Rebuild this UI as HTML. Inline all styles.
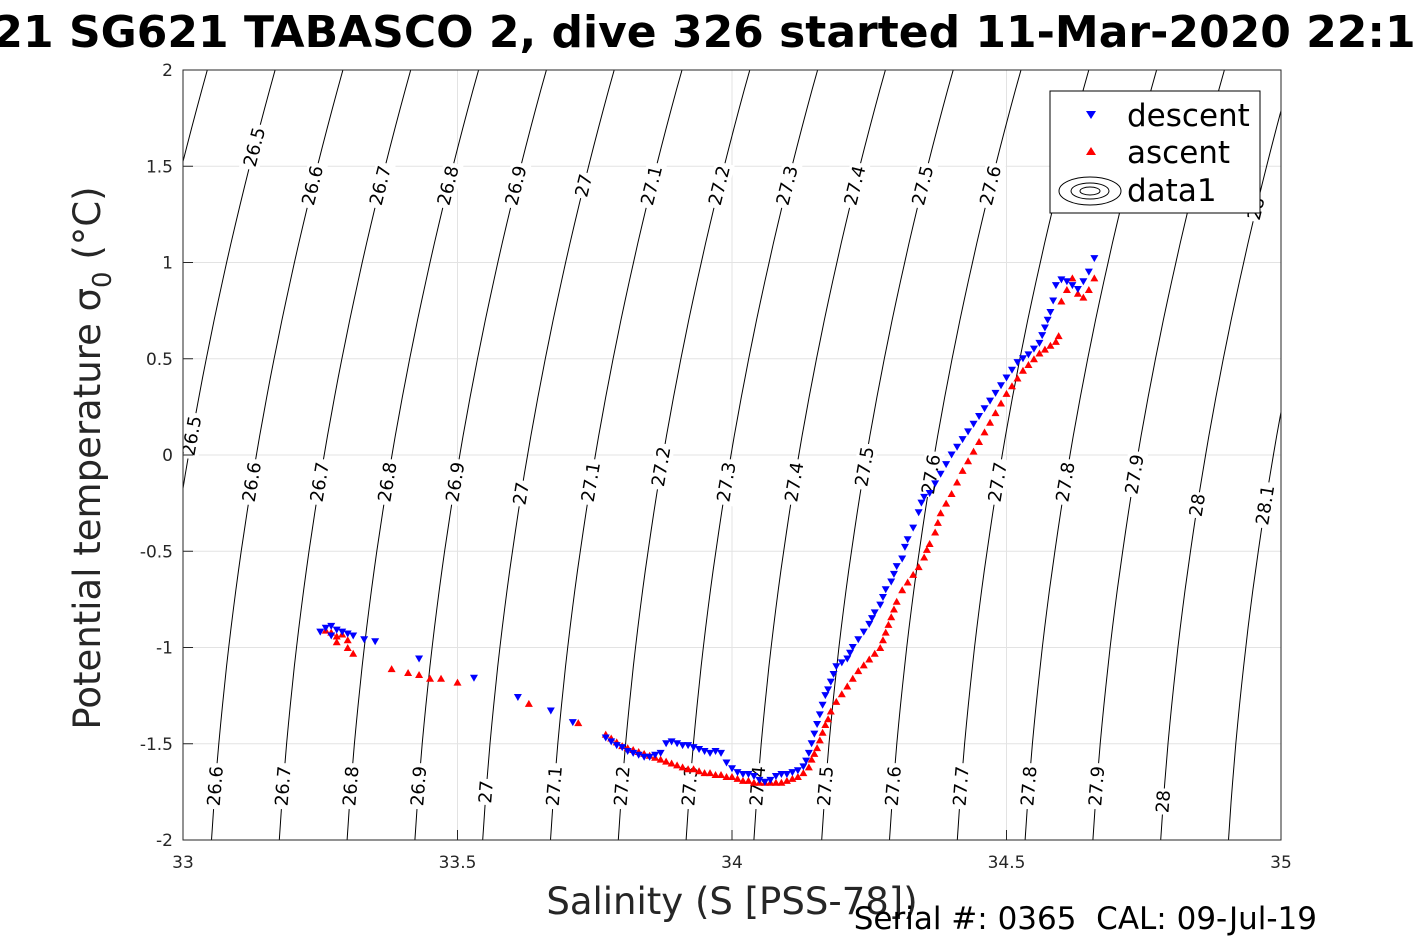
<!DOCTYPE html>
<html><head><meta charset="utf-8"><style>
body{margin:0;background:#fff;}
svg{display:block;font-family:"DejaVu Sans","Liberation Sans",sans-serif;}
</style></head><body>
<svg id="chart" width="1417" height="945" viewBox="0 0 1417 945">
<text x="-106" y="47" text-anchor="start" font-size="44" font-weight="bold">SG621 SG621 TABASCO 2, dive 326 started 11-Mar-2020 22:10</text>
<g id="grid"></g>
<g id="contours"></g>
<g id="points"></g>
<rect x="183" y="70" width="1098" height="770" fill="none" stroke="#262626" stroke-width="1"/>
<g id="ticks" font-size="17" fill="#262626"></g>
<text transform="translate(100,458) rotate(-90)" text-anchor="middle" font-size="37" fill="#262626">Potential temperature σ<tspan font-size="26" dy="11">0</tspan><tspan dy="-11"> (°C)</tspan></text>
<text x="732" y="914" text-anchor="middle" font-size="37" fill="#262626">Salinity (S [PSS-78])</text>
<text x="1317" y="929" text-anchor="end" font-size="31" xml:space="preserve">Serial #: 0365  CAL: 09-Jul-19</text>
<g>
<rect x="1050" y="91" width="210" height="122" fill="#fff" stroke="#000" stroke-width="1"/>
<path d="M1086,111 L1096,111 L1091,119 Z" fill="#00f"/>
<text x="1127" y="126" font-size="31">descent</text>
<path d="M1091,147 L1096,155 L1086,155 Z" fill="#f00"/>
<text x="1127" y="163" font-size="31">ascent</text>
<g fill="none" stroke="#000" stroke-width="1">
<ellipse cx="1090" cy="191" rx="31" ry="14"/><ellipse cx="1090" cy="191" rx="19" ry="8"/><ellipse cx="1090" cy="191" rx="10" ry="4"/></g>
<text x="1127" y="201" font-size="31">data1</text>
</g>
</svg>
<script>
const xTicks=[33,33.5,34,34.5,35];
const xTickLabels=["33","33.5","34","34.5","35"];
const yTicks=[2,1.5,1,0.5,0,-0.5,-1,-1.5,-2];
const yTickLabels=["2","1.5","1","0.5","0","-0.5","-1","-1.5","-2"];
const sigmaLevels=[26.3,26.4,26.5,26.6,26.7,26.8,26.9,27,27.1,27.2,27.3,27.4,27.5,27.6,27.7,27.8,27.9,28,28.1,28.2,28.3];
const topLabels=[[26.5,1.6],[26.6,1.4],[26.7,1.4],[26.8,1.4],[26.9,1.4],[27,1.4],[27.1,1.4],[27.2,1.4],[27.3,1.4],[27.4,1.4],[27.5,1.4],[27.6,1.4],[28,1.28]];
const midLabels=[[26.5,0.1],[26.6,-0.14],[26.7,-0.14],[26.8,-0.14],[26.9,-0.14],[27,-0.2],[27.1,-0.14],[27.2,-0.06],[27.3,-0.14],[27.4,-0.14],[27.5,-0.06],[27.6,-0.1],[27.7,-0.14],[27.8,-0.14],[27.9,-0.1],[28,-0.26],[28.1,-0.26]];
const botLabels=[[26.6,-1.72],[26.7,-1.72],[26.8,-1.72],[26.9,-1.72],[27,-1.75],[27.1,-1.72],[27.2,-1.72],[27.3,-1.72],[27.4,-1.72],[27.5,-1.72],[27.6,-1.72],[27.7,-1.72],[27.8,-1.72],[27.9,-1.72],[28,-1.8]];
const descS=[33.25,33.26,33.27,33.28,33.27,33.29,33.30,33.31,33.33,33.35,33.43,33.53,33.61,33.67,33.71,33.77,33.78,33.79,33.80,33.81,33.82,33.83,33.84,33.85,33.86,33.87,33.88,33.89,33.90,33.91,33.92,33.93,33.94,33.95,33.96,33.97,33.98,33.99,34.00,34.01,34.02,34.03,34.04,34.05,34.06,34.07,34.08,34.09,34.10,34.11,34.12,34.13,34.135,34.14,34.145,34.15,34.155,34.16,34.165,34.17,34.175,34.18,34.185,34.19,34.20,34.21,34.215,34.22,34.23,34.24,34.25,34.255,34.26,34.27,34.275,34.28,34.29,34.295,34.30,34.31,34.315,34.32,34.33,34.34,34.345,34.35,34.36,34.37,34.38,34.39,34.40,34.41,34.42,34.43,34.44,34.45,34.46,34.47,34.48,34.49,34.50,34.51,34.52,34.53,34.54,34.55,34.56,34.565,34.57,34.575,34.58,34.585,34.59,34.60,34.61,34.62,34.63,34.64,34.65,34.66];
const descT=[-0.92,-0.90,-0.89,-0.91,-0.94,-0.92,-0.93,-0.94,-0.96,-0.97,-1.06,-1.16,-1.26,-1.33,-1.39,-1.47,-1.49,-1.51,-1.52,-1.54,-1.55,-1.56,-1.57,-1.57,-1.56,-1.55,-1.50,-1.49,-1.50,-1.51,-1.51,-1.52,-1.53,-1.54,-1.55,-1.54,-1.55,-1.60,-1.63,-1.65,-1.66,-1.66,-1.67,-1.69,-1.70,-1.69,-1.67,-1.66,-1.66,-1.65,-1.64,-1.62,-1.59,-1.55,-1.50,-1.45,-1.40,-1.35,-1.30,-1.25,-1.22,-1.18,-1.14,-1.10,-1.08,-1.06,-1.03,-1.00,-0.96,-0.92,-0.88,-0.85,-0.82,-0.78,-0.74,-0.70,-0.66,-0.62,-0.58,-0.54,-0.48,-0.44,-0.38,-0.30,-0.25,-0.22,-0.20,-0.15,-0.10,-0.05,0.00,0.04,0.08,0.12,0.16,0.20,0.24,0.28,0.32,0.36,0.40,0.44,0.48,0.50,0.52,0.55,0.58,0.62,0.66,0.70,0.74,0.80,0.88,0.91,0.90,0.88,0.86,0.90,0.95,1.02];
const ascS=[33.26,33.27,33.28,33.28,33.29,33.30,33.30,33.31,33.38,33.41,33.43,33.45,33.47,33.50,33.63,33.72,33.77,33.78,33.79,33.80,33.81,33.82,33.83,33.84,33.85,33.86,33.87,33.88,33.89,33.90,33.91,33.92,33.93,33.94,33.95,33.96,33.97,33.98,33.99,34.00,34.01,34.02,34.03,34.04,34.05,34.06,34.07,34.08,34.09,34.10,34.11,34.12,34.13,34.14,34.145,34.15,34.155,34.16,34.165,34.17,34.175,34.18,34.19,34.20,34.21,34.22,34.23,34.24,34.25,34.26,34.27,34.275,34.28,34.285,34.29,34.295,34.30,34.31,34.32,34.33,34.34,34.35,34.355,34.36,34.37,34.375,34.38,34.39,34.40,34.41,34.42,34.43,34.44,34.45,34.46,34.47,34.48,34.49,34.50,34.51,34.52,34.53,34.54,34.55,34.56,34.57,34.58,34.59,34.595,34.60,34.61,34.62,34.63,34.64,34.65,34.66];
const ascT=[-0.91,-0.92,-0.94,-0.97,-0.93,-0.96,-1.00,-1.03,-1.11,-1.13,-1.14,-1.16,-1.16,-1.18,-1.29,-1.39,-1.45,-1.47,-1.49,-1.51,-1.52,-1.53,-1.54,-1.55,-1.56,-1.57,-1.58,-1.59,-1.60,-1.61,-1.62,-1.63,-1.63,-1.64,-1.65,-1.65,-1.66,-1.66,-1.67,-1.67,-1.68,-1.69,-1.69,-1.70,-1.70,-1.70,-1.70,-1.70,-1.70,-1.69,-1.68,-1.67,-1.65,-1.62,-1.58,-1.55,-1.52,-1.48,-1.44,-1.40,-1.37,-1.33,-1.28,-1.24,-1.20,-1.16,-1.12,-1.09,-1.06,-1.03,-1.00,-0.96,-0.92,-0.88,-0.84,-0.80,-0.76,-0.70,-0.66,-0.62,-0.58,-0.53,-0.49,-0.46,-0.40,-0.35,-0.30,-0.25,-0.20,-0.14,-0.08,-0.03,0.02,0.07,0.12,0.17,0.22,0.27,0.32,0.36,0.40,0.44,0.47,0.50,0.53,0.55,0.57,0.59,0.62,0.80,0.86,0.92,0.84,0.82,0.86,0.92,1.00];

const X0=183,X1=1281,Y0=840,Y1=70;
function xs(s){return X0+(s-33)/2*(X1-X0);}
function ys(t){return Y0-(t+2)/4*(Y0-Y1);}
function isoS(sig,t){const d=t+1.75;return 33.058+(sig-26.6)*1.235+0.0266*d+0.0095*d*d;}
const NS="http://www.w3.org/2000/svg";
function mk(tag,attrs,parent){const e=document.createElementNS(NS,tag);for(const k in attrs)e.setAttribute(k,attrs[k]);parent.appendChild(e);return e;}

const grid=document.getElementById('grid');
xTicks.forEach((v,i)=>{const l=mk('line',{x1:xs(v),x2:xs(v),y1:Y1,y2:Y0,stroke:'#e3e3e3'},grid);

});
yTicks.forEach((v,i)=>{const l=mk('line',{x1:X0,x2:X1,y1:ys(v),y2:ys(v),stroke:'#e3e3e3'},grid);

});

const ticks=document.getElementById('ticks');
xTicks.forEach((v,i)=>{mk('line',{x1:xs(v),x2:xs(v),y1:Y0,y2:Y0-10,stroke:'#262626'},ticks);
const t=mk('text',{x:xs(v),y:868,'text-anchor':'middle'},ticks);t.textContent=xTickLabels[i];

});
yTicks.forEach((v,i)=>{mk('line',{x1:X0,x2:X0+10,y1:ys(v),y2:ys(v),stroke:'#262626'},ticks);
const t=mk('text',{x:173,y:ys(v)+6,'text-anchor':'end'},ticks);t.textContent=yTickLabels[i];

});

const cg=document.getElementById('contours');
const clip=mk('clipPath',{id:'pc'},mk('defs',{},cg));mk('rect',{x:X0,y:Y1,width:X1-X0,height:Y0-Y1},clip);
const lines=mk('g',{'clip-path':'url(#pc)'},cg);
sigmaLevels.forEach(sig=>{let d='';for(let t=-2.1;t<=2.11;t+=0.1){d+=(d?'L':'M')+xs(isoS(sig,t)).toFixed(1)+','+ys(t).toFixed(1);}
const p=mk('path',{d:d,fill:'none',stroke:'#000','stroke-width':1},lines);

});
const labG=mk('g',{'clip-path':'url(#pc)'},cg);
[topLabels,midLabels,botLabels].forEach(row=>row.forEach(([sig,t])=>{
const x=xs(isoS(sig,t)),y=ys(t);
const ang=Math.atan2(ys(t+0.1)-ys(t),xs(isoS(sig,t+0.1))-x)*180/Math.PI;
const g=mk('g',{transform:`translate(${x.toFixed(1)},${y.toFixed(1)}) rotate(${ang.toFixed(1)})`},labG);
const txt=String(sig);const w=txt.length*10+6;
mk('rect',{x:-w/2,y:-10,width:w,height:20,fill:'#fff'},g);
const tx=mk('text',{x:0,y:6,'text-anchor':'middle','font-size':18},g);tx.textContent=txt;

}));

const pg=document.getElementById('points');
ascS.forEach((s,i)=>{const x=xs(s),y=ys(ascT[i]);
const p=mk('path',{d:`M${x-4},${y+3.5}L${x+4},${y+3.5}L${x},${y-3.5}Z`,fill:'#f00'},pg);

});
descS.forEach((s,i)=>{const x=xs(s),y=ys(descT[i]);
const p=mk('path',{d:`M${x-4},${y-3.5}L${x+4},${y-3.5}L${x},${y+3.5}Z`,fill:'#00f'},pg);

});
</script>
</body></html>
